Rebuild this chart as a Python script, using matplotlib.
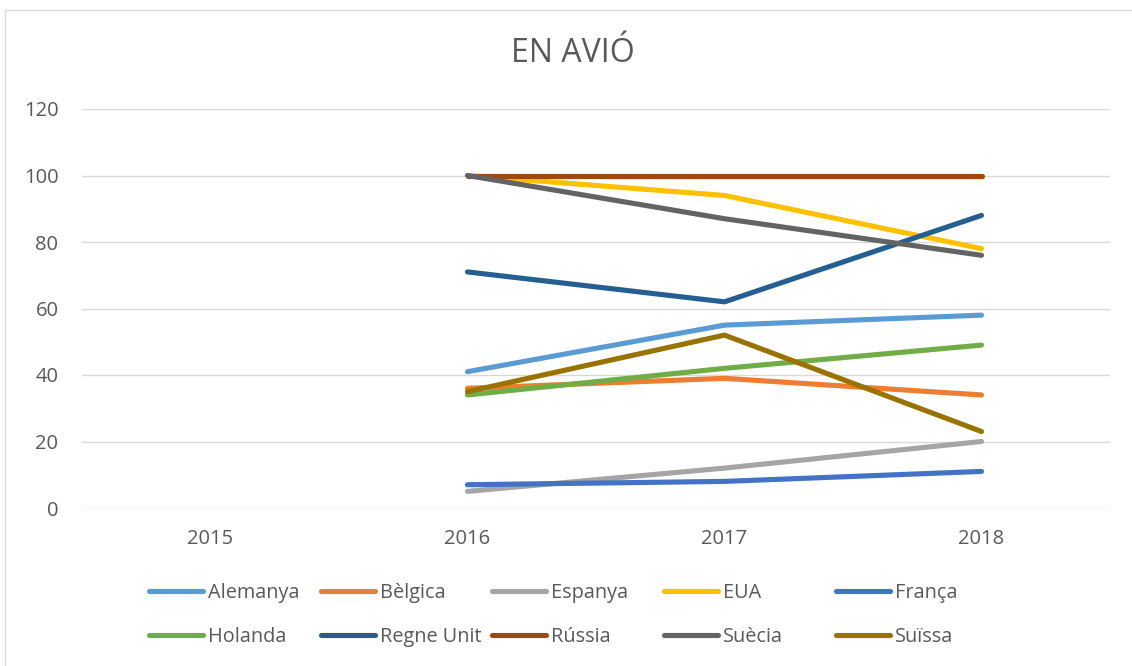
import matplotlib
matplotlib.use("Agg")
import matplotlib.pyplot as plt
from matplotlib.lines import Line2D
from matplotlib.patches import Rectangle

years = ["2015", "2016", "2017", "2018"]
series_names = ["Alemanya", "Bèlgica", "Espanya", "EUA", "França",
                "Holanda", "Regne Unit", "Rússia", "Suècia", "Suïssa"]
alemanya = [None, 41, 55, 58]
belgica = [None, 36, 39, 34]
espanya = [None, 5, 12, 20]
eua = [None, 100, 94, 78]
franca = [None, 7, 8, 11]
holanda = [None, 34, 42, 49]
regne_unit = [None, 71, 62, 88]
russia = [None, 100, 100, 100]
suecia = [None, 100, 87, 76]
suissa = [None, 35, 52, 23]
values = [alemanya, belgica, espanya, eua, franca,
          holanda, regne_unit, russia, suecia, suissa]
colors = ["#5B9BD5", "#ED7D31", "#A5A5A5", "#FFC000", "#4472C4",
          "#70AD47", "#255E91", "#9E480E", "#636363", "#997300"]
yticks = [0, 20, 40, 60, 80, 100, 120]

plt.rcParams['font.family'] = ['Open Sans', 'DejaVu Sans']
txt = "#595959"

W, H = 1132, 666
fig = plt.figure(figsize=(W / 100, H / 100), dpi=100)
ax = fig.add_axes([82 / W, 1 - 508 / H, (1110 - 82) / W, (508 - 109) / H])

x = list(range(len(years)))
for name, vals, c in zip(series_names, values, colors):
    xs = [xi for xi, v in zip(x, vals) if v is not None]
    ys = [v for v in vals if v is not None]
    ax.plot(xs, ys, color=c, lw=3.7, solid_capstyle='round',
            solid_joinstyle='round', label=name)

ax.set_xlim(-0.5, len(years) - 0.5)
ax.set_ylim(0, 120)
ax.set_yticks(yticks)
ax.set_xticks(x)
ax.set_xticklabels(years)
ax.grid(axis='y', color='#D9D9D9', lw=1)
ax.set_axisbelow(True)
for s in ax.spines.values():
    s.set_visible(False)
ax.tick_params(axis='both', length=0, labelsize=14.5, colors=txt)
ax.tick_params(axis='y', pad=17)
ax.tick_params(axis='x', pad=15)

fig.text(573 / W, 1 - 54 / H, "EN AVIÓ", ha='center', va='center',
         fontsize=23, color=txt)

# legend: one item per slot, Excel-like fixed columns
col_x = [149, 321, 492, 664, 836]
row_y = [593, 637]
fs = 14.3
for i, (name, c) in enumerate(zip(series_names, colors)):
    r, k = divmod(i, 5)
    h = Line2D([], [], color=c, lw=3.7, solid_capstyle='round')
    leg = fig.legend([h], [name], loc='center left',
                     bbox_to_anchor=(col_x[k] / W, 1 - row_y[r] / H),
                     frameon=False, fontsize=fs, handlelength=54 / (fs * 100 / 72),
                     handletextpad=0.25, borderpad=0, borderaxespad=0)
    for t in leg.get_texts():
        t.set_color(txt)

fig.patches.append(Rectangle((5 / W, -0.1), 1.2, 1 - 10 / H + 0.1,
                             transform=fig.transFigure, fill=False,
                             edgecolor='#D9D9D9', lw=1))

fig.savefig("out.png", dpi=100)
